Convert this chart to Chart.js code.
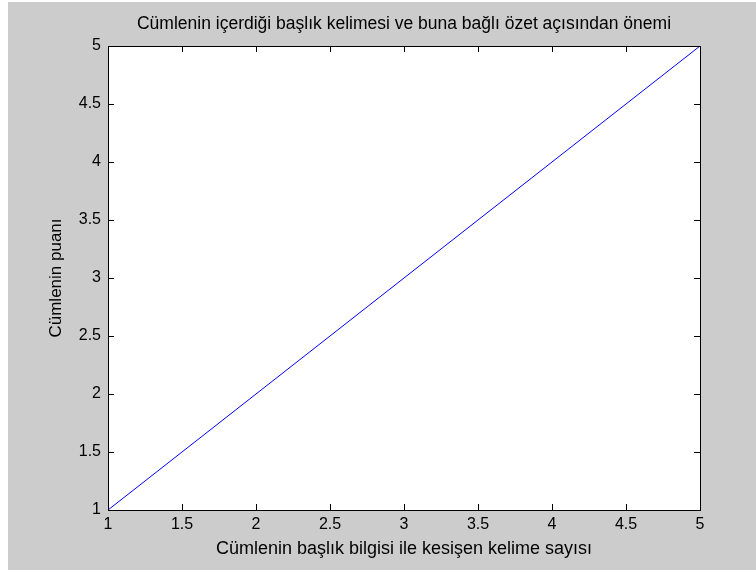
<!DOCTYPE html>
<html>
<head>
<meta charset="utf-8">
<script src="https://cdn.jsdelivr.net/npm/chart.js@4.4.1/dist/chart.umd.min.js"></script>
<style>
html,body{margin:0;padding:0;background:#ffffff;}
#wrap{position:relative;width:756px;height:572px;}
</style>
</head>
<body>
<div id="wrap"><canvas id="c" width="756" height="572"></canvas></div>
<script>
const xValues = [1, 2, 3, 4, 5];
const yValues = [1, 2, 3, 4, 5];
const xTickValues = [1, 1.5, 2, 2.5, 3, 3.5, 4, 4.5, 5];
const xTickLabels = ['1', '1.5', '2', '2.5', '3', '3.5', '4', '4.5', '5'];
const yTickValues = [1, 1.5, 2, 2.5, 3, 3.5, 4, 4.5, 5];
const yTickLabels = ['1', '1.5', '2', '2.5', '3', '3.5', '4', '4.5', '5'];
const titleText = 'Cümlenin içerdiği başlık kelimesi ve buna bağlı özet açısından önemi';
const xAxisTitle = 'Cümlenin başlık bilgisi ile kesişen kelime sayısı';
const yAxisTitle = 'Cümlenin puanı';

const FONT = "'Liberation Sans', Arial, sans-serif";
const FS = 16;

const matlabFrame = {
  id: 'matlabFrame',
  beforeDraw(chart) {
    const ctx = chart.ctx;
    const a = chart.chartArea;
    ctx.save();
    ctx.fillStyle = '#ffffff';
    ctx.fillRect(0, 0, chart.width, chart.height);
    ctx.fillStyle = '#cccccc';
    ctx.fillRect(8, 2, chart.width - 8, 568);
    ctx.fillStyle = '#ffffff';
    ctx.fillRect(a.left, a.top, a.right - a.left, a.bottom - a.top);
    ctx.restore();
  },
  afterDatasetsDraw(chart) {
    const ctx = chart.ctx;
    const a = chart.chartArea;
    const xs = chart.scales.x, ys = chart.scales.y;
    const L = 6;
    ctx.save();
    ctx.strokeStyle = '#000000';
    ctx.lineWidth = 1;
    ctx.beginPath();
    xTickValues.forEach(v => {
      const px = Math.round(xs.getPixelForValue(v)) + 0.5;
      ctx.moveTo(px, a.bottom); ctx.lineTo(px, a.bottom - L);
      ctx.moveTo(px, a.top); ctx.lineTo(px, a.top + L);
    });
    yTickValues.forEach(v => {
      const py = Math.round(ys.getPixelForValue(v)) + 0.5;
      ctx.moveTo(a.left, py); ctx.lineTo(a.left + L, py);
      ctx.moveTo(a.right, py); ctx.lineTo(a.right - L, py);
    });
    ctx.stroke();
    ctx.strokeRect(Math.round(a.left) + 0.5, Math.round(a.top) + 0.5,
                   Math.round(a.right - a.left), Math.round(a.bottom - a.top));
    ctx.restore();
  }
};

new Chart(document.getElementById('c'), {
  type: 'line',
  data: {
    datasets: [{
      data: xValues.map((x, i) => ({ x: x, y: yValues[i] })),
      borderColor: '#0000ff',
      borderWidth: 1,
      pointRadius: 0,
      tension: 0,
      fill: false
    }]
  },
  options: {
    responsive: false,
    animation: false,
    devicePixelRatio: 1,
    layout: { padding: { left: 0, right: 56, top: 0, bottom: 0 } },
    plugins: {
      legend: { display: false },
      tooltip: { enabled: false },
      title: {
        display: true,
        text: titleText,
        fullSize: false,
        color: '#000000',
        font: { family: FONT, size: 17.5, weight: 'normal' },
        padding: { top: 14, bottom: 11 }
      }
    },
    scales: {
      x: {
        type: 'linear',
        min: 1, max: 5,
        afterBuildTicks: s => { s.ticks = xTickValues.map(v => ({ value: v })); },
        afterFit: s => { s.height = 62; },
        grid: { display: false, drawTicks: false },
        border: { display: false },
        ticks: {
          color: '#000000',
          font: { family: FONT, size: FS },
          padding: 5,
          maxRotation: 0,
          autoSkip: false,
          callback: (v, i) => xTickLabels[i]
        },
        title: {
          display: true,
          text: xAxisTitle,
          color: '#000000',
          font: { family: FONT, size: 18 },
          padding: { top: 0, bottom: 12 }
        }
      },
      y: {
        type: 'linear',
        min: 1, max: 5,
        afterBuildTicks: s => { s.ticks = yTickValues.map(v => ({ value: v })); },
        afterFit: s => { s.width = 108; },
        grid: { display: false, drawTicks: false },
        border: { display: false },
        ticks: {
          color: '#000000',
          font: { family: FONT, size: FS },
          padding: 7,
          autoSkip: false,
          callback: (v, i) => yTickLabels[i]
        },
        title: {
          display: true,
          text: yAxisTitle,
          color: '#000000',
          font: { family: FONT, size: 17 },
          padding: { top: 46, bottom: 0 }
        }
      }
    }
  },
  plugins: [matlabFrame]
});
</script>
</body>
</html>
